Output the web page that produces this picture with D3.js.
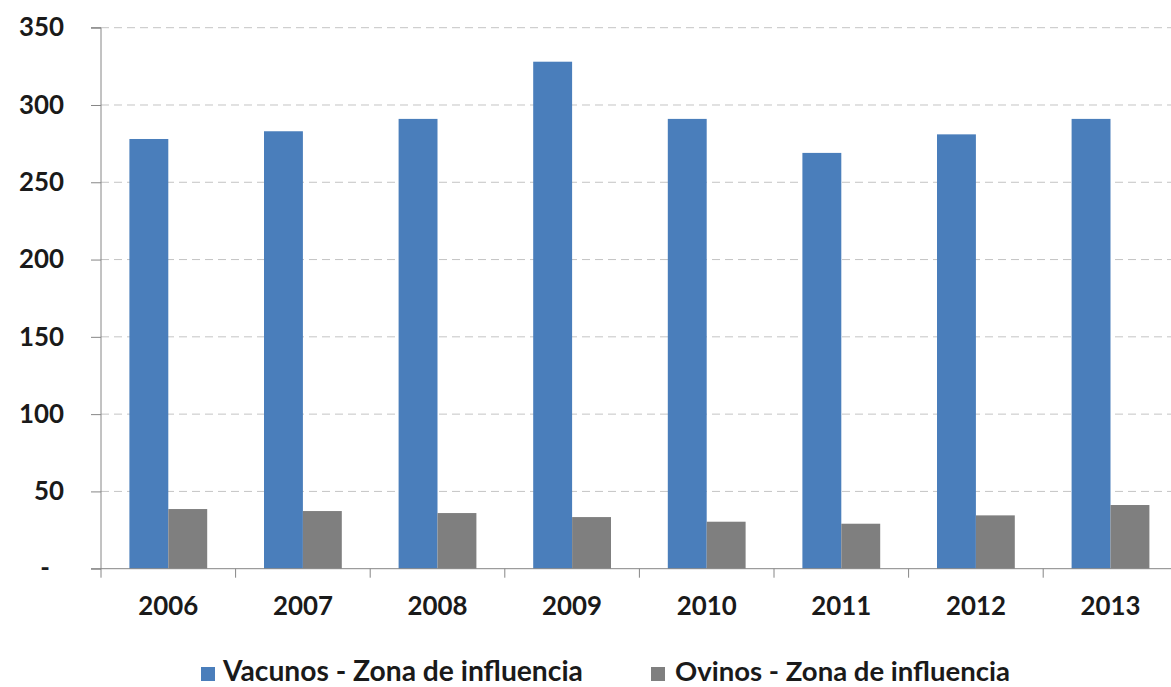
<!DOCTYPE html>
<html><head><meta charset="utf-8">
<script src="https://cdn.jsdelivr.net/npm/d3@7/dist/d3.min.js"></script>
<style>body{margin:0;background:#fff;}svg{display:block;}</style>
</head><body>
<svg id="c" width="1171" height="687"></svg>
<script>
const years = ["2006","2007","2008","2009","2010","2011","2012","2013"];
const vacunos = [278, 283, 291, 328, 291, 269, 281, 291];
const ovinos = [38.6, 37.3, 36.0, 33.4, 30.4, 29.1, 34.5, 41.2];
const seriesNames = ["Vacunos - Zona de influencia", "Ovinos - Zona de influencia"];
const yTicks = [0, 50, 100, 150, 200, 250, 300, 350];

(function(){
const FONT = "Lato, 'Open Sans', sans-serif";
const colors = ["#4a7ebb", "#7f7f7f"];
const svg = d3.select("#c");
const pLeft = 101, pRight = 101 + 8*134.6, pTop = 27.7, pBottom = 568.7;

const x = d3.scaleBand().domain(years).range([pLeft, pRight]).paddingInner(0).paddingOuter(0);
const y = d3.scaleLinear().domain([0, 350]).range([pBottom, pTop]);
const sub = d3.scaleBand().domain([0,1]).range([0, x.bandwidth()]).paddingInner(0).paddingOuter(0.73);

function fit(sel, target){
  const n = sel.node(); const w = n.getComputedTextLength();
  const fs = parseFloat(sel.attr("font-size"));
  sel.attr("font-size", fs*target/w);
}

// gridlines
svg.append("g").selectAll("line").data(yTicks.filter(d=>d>0)).join("line")
  .attr("x1", pLeft).attr("x2", pRight).attr("y1", d=>y(d)).attr("y2", d=>y(d))
  .attr("stroke", "#c4c4c4").attr("stroke-width", 1).attr("stroke-dasharray", "8,5");

// bars
const series = [vacunos, ovinos];
series.forEach((vals, si)=>{
  svg.append("g").selectAll("rect").data(years).join("rect")
    .attr("x", (d)=>x(d)+sub(si))
    .attr("width", sub.bandwidth())
    .attr("y", (d,i)=>y(vals[i]))
    .attr("height", (d,i)=>pBottom - y(vals[i]))
    .attr("fill", colors[si]);
});

// y axis
const yAxis = svg.append("g").attr("transform", `translate(${pLeft},0)`)
  .call(d3.axisLeft(y).tickValues(yTicks).tickSize(10).tickPadding(27)
    .tickFormat(d=> d===0 ? "-" : d));
yAxis.select(".domain").attr("stroke", "#868686").attr("d", `M-10,${pTop}H0V${pBottom+9}`);
yAxis.selectAll(".tick line").attr("stroke", "#868686");
yAxis.selectAll(".tick text").attr("font-family", FONT).attr("font-weight", "bold")
  .attr("font-size", 24).attr("fill", "#1a1a1a");
{
  const t = yAxis.selectAll(".tick text").filter(d=>d===350);
  const w = t.node().getComputedTextLength();
  const fs = 24*45/w;
  yAxis.selectAll(".tick text").attr("font-size", fs);
  yAxis.selectAll(".tick text").filter(d=>d===0).attr("dx", -14);
}

// x axis
const xAxis = svg.append("g").attr("transform", `translate(0,${pBottom})`)
  .call(d3.axisBottom(x).tickSize(0).tickPadding(28));
xAxis.select(".domain").attr("stroke", "#868686").attr("d", `M${pLeft-10},0H${pRight}`);
xAxis.selectAll(".tick text").attr("font-family", FONT).attr("font-weight", "bold")
  .attr("font-size", 24).attr("fill", "#1a1a1a");
{
  const t = xAxis.select(".tick text");
  const w = t.node().getComputedTextLength();
  xAxis.selectAll(".tick text").attr("font-size", 24*60/w);
}
// category boundary ticks
svg.append("g").selectAll("line").data(years).join("line")
  .attr("x1", (d,i)=>pLeft + (i+1)*x.step()).attr("x2", (d,i)=>pLeft + (i+1)*x.step())
  .attr("y1", pBottom).attr("y2", pBottom+9).attr("stroke", "#868686");

// legend
const leg = [
  {sx: 201, tx: 223, w: 360},
  {sx: 651, tx: 675, w: 335}
];
seriesNames.forEach((name, i)=>{
  svg.append("rect").attr("x", leg[i].sx).attr("y", 667).attr("width", 14).attr("height", 14)
    .attr("fill", colors[i]);
  const t = svg.append("text").attr("x", leg[i].tx).attr("y", 681)
    .attr("font-family", FONT).attr("font-weight", "bold").attr("font-size", 26)
    .attr("fill", "#1a1a1a").text(name);
  fit(t, leg[i].w);
});
})();
</script>
</body></html>
